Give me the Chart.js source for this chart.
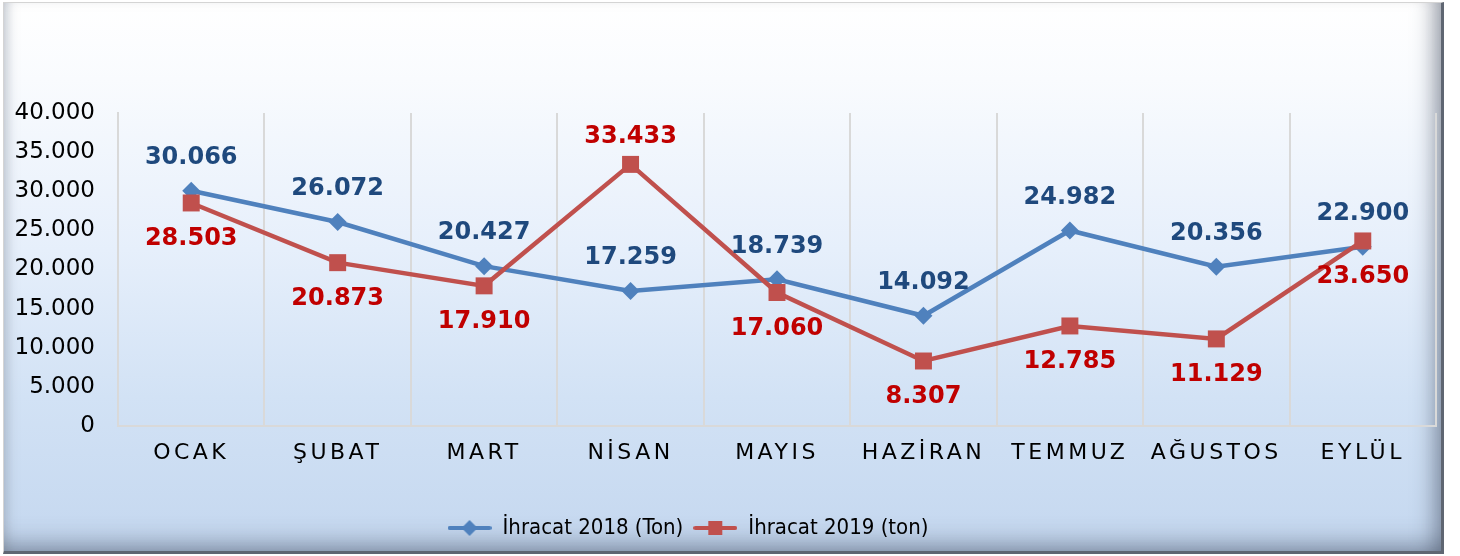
<!DOCTYPE html>
<html>
<head>
<meta charset="utf-8">
<script src="https://cdn.jsdelivr.net/npm/chart.js@4.4.0/dist/chart.umd.min.js"></script>
<style>
  html, body { margin: 0; padding: 0; background: #ffffff; }
  body { width: 1460px; height: 556px; position: relative; overflow: hidden; }
  .frame {
    position: absolute; left: 3px; top: 2px; width: 1437px; height: 548px;
    border-top: 1px solid #d4d4d4; border-left: 1px solid #d4d4d4;
    border-right: 3px solid #5f6672; border-bottom: 3px solid #5f6672;
    background: linear-gradient(to bottom, #ffffff 0%, #f9fbfe 14%, #e6effb 45%, #d2e2f5 72%, #c4d7ef 100%);
    box-shadow: inset -24px 0 22px -18px rgba(70,80,100,0.6),
                inset 0 -26px 24px -20px rgba(70,80,100,0.55),
                inset 12px 0 12px -9px rgba(140,150,165,0.5);
  }
  canvas { position: absolute; left: 0; top: 0; }
</style>
</head>
<body>
<div class="frame"></div>
<canvas id="grafik" width="1460" height="556"></canvas>
<script>
const aylar = ['OCAK', 'ŞUBAT', 'MART', 'NİSAN', 'MAYIS', 'HAZİRAN', 'TEMMUZ', 'AĞUSTOS', 'EYLÜL'];
const ihracat2018 = [30066, 26072, 20427, 17259, 18739, 14092, 24982, 20356, 22900];
const ihracat2019 = [28503, 20873, 17910, 33433, 17060, 8307, 12785, 11129, 23650];
const yEksen = { min: 0, max: 40000, adim: 5000 };

function noktali(n) {
  return String(n).replace(/\B(?=(\d{3})+(?!\d))/g, '.');
}

// legend icons: line with marker in the middle
function ikon(renk, tip) {
  const c = document.createElement('canvas');
  c.width = 44; c.height = 18;
  const g = c.getContext('2d');
  g.strokeStyle = renk; g.lineWidth = 4; g.lineCap = 'round';
  g.beginPath(); g.moveTo(2, 9); g.lineTo(42, 9); g.stroke();
  g.fillStyle = renk;
  if (tip == 'elmas') {
    g.beginPath(); g.moveTo(22, 1); g.lineTo(30, 9); g.lineTo(22, 17); g.lineTo(14, 9); g.closePath(); g.fill();
  } else {
    g.fillRect(15, 2, 14, 14);
  }
  return c;
}

// value labels above / below the points
const degerEtiketleri = {
  id: 'degerEtiketleri',
  afterDatasetsDraw(chart) {
    const ctx = chart.ctx;
    ctx.save();
    ctx.font = 'bold 24px "DejaVu Sans", Verdana, sans-serif';
    ctx.textAlign = 'center';
    ctx.textBaseline = 'middle';
    chart.data.datasets.forEach((ds, i) => {
      const meta = chart.getDatasetMeta(i);
      meta.data.forEach((p, j) => {
        let dy = ds.etiketUst ? -33 : 36;
        if (ds.ustIndex && ds.ustIndex.includes(j)) dy = -28;
        ctx.fillStyle = ds.etiketRenk;
        ctx.fillText(noktali(ds.data[j]), p.x, p.y + dy);
      });
    });
    ctx.restore();
  }
};

// letter spacing for month labels, legend shift
const ayarlar = {
  id: 'ayarlar',
  afterLayout(chart) {
    const sc = chart.scales.x;
    if (!sc._aralikli) {
      const orj = sc.drawLabels;
      sc.drawLabels = function (alan) {
        chart.ctx.save();
        chart.ctx.letterSpacing = '3.5px';
        orj.call(this, alan);
        chart.ctx.restore();
      };
      sc._aralikli = true;
    }
    const lg = chart.legend;
    lg.left -= 30; lg.right -= 30;
    lg.top += 1; lg.bottom += 1;
  }
};

const ctx = document.getElementById('grafik').getContext('2d');
new Chart(ctx, {
  type: 'line',
  data: {
    labels: aylar,
    datasets: [
      {
        label: 'İhracat 2018 (Ton)',
        data: ihracat2018,
        borderColor: '#4f81bd',
        backgroundColor: '#4f81bd',
        borderWidth: 4.5,
        pointStyle: 'rectRot',
        pointRadius: 9,
        pointBorderWidth: 0,
        tension: 0,
        order: 1,
        etiketRenk: '#1f497d',
        etiketUst: true
      },
      {
        label: 'İhracat 2019 (ton)',
        data: ihracat2019,
        borderColor: '#c0504d',
        backgroundColor: '#c0504d',
        borderWidth: 4.5,
        pointStyle: 'rect',
        pointRadius: 12,
        pointBorderWidth: 0,
        tension: 0,
        order: 0,
        etiketRenk: '#c00000',
        etiketUst: false,
        ustIndex: [3]
      }
    ]
  },
  options: {
    responsive: false,
    animation: false,
    layout: { padding: { left: 0, right: 24, top: 113, bottom: 8 } },
    scales: {
      x: {
        offset: true,
        grid: { offset: true, color: '#d9d9d9', lineWidth: 2, drawTicks: false },
        border: { display: true, color: '#d9d9d9', width: 2 },
        ticks: {
          color: '#000000',
          padding: 14,
          font: { family: '"DejaVu Sans", Verdana, sans-serif', size: 22 },
          maxRotation: 0,
          autoSkip: false
        },
        afterFit(s) { s.height = 80; }
      },
      y: {
        min: yEksen.min,
        max: yEksen.max,
        grid: { display: false, drawTicks: false },
        border: { display: true, color: '#d9d9d9', width: 2 },
        ticks: {
          stepSize: yEksen.adim,
          color: '#000000',
          padding: 23,
          font: { family: '"DejaVu Sans", Verdana, sans-serif', size: 23 },
          callback: v => noktali(v)
        },
        afterFit(s) { s.width = 118; }
      }
    },
    plugins: {
      tooltip: { enabled: false },
      legend: {
        position: 'bottom',
        labels: {
          usePointStyle: true,
          pointStyleWidth: 44,
          boxHeight: 18,
          padding: 10,
          color: '#000000',
          font: { family: '"DejaVu Sans Condensed", "Liberation Sans Narrow", "DejaVu Sans", sans-serif', size: 22 },
          generateLabels(chart) {
            const ikonlar = [ikon('#4f81bd', 'elmas'), ikon('#c0504d', 'kare')];
            return chart.data.datasets.map((ds, i) => ({
              text: ds.label,
              pointStyle: ikonlar[i],
              fillStyle: ds.borderColor,
              strokeStyle: 'transparent',
              lineWidth: 0,
              hidden: false,
              datasetIndex: i
            }));
          }
        }
      }
    }
  },
  plugins: [degerEtiketleri, ayarlar]
});
</script>
</body>
</html>
